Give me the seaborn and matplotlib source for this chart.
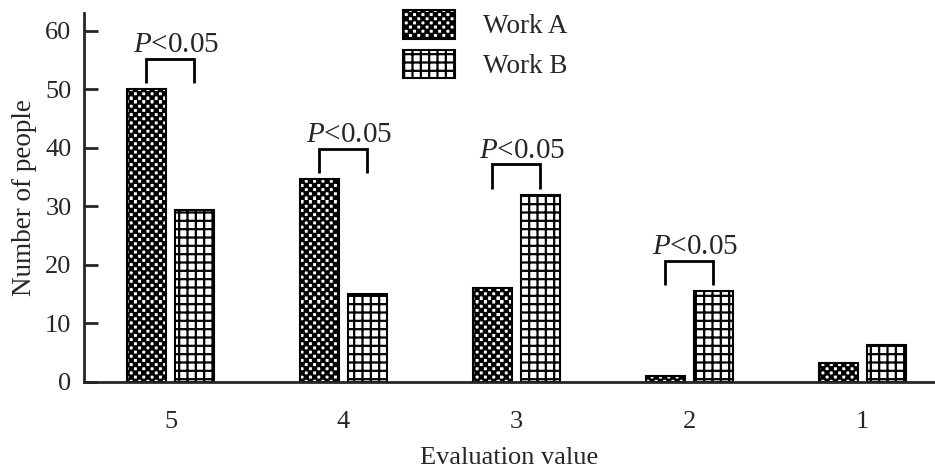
import numpy as np
import pandas as pd
import matplotlib
matplotlib.use("Agg")
import matplotlib.pyplot as plt
import seaborn as sns
from matplotlib import hatch as mhatch
from matplotlib.path import Path
from matplotlib.patches import Patch

# Data
categories = ["5", "4", "3", "2", "1"]
work_a = [50, 34.6, 16, 1.1, 3.2]
work_b = [29.4, 15, 32, 15.5, 6.3]
significant = [True, True, True, True, False]
series_names = ["Work A", "Work B"]


# checkerboard hatch, used in place of the small filled circles ('.')
class CheckerHatch(mhatch.HatchPatternBase):
    def __init__(self, hatch, density):
        self.n = hatch.count(".") * density
        if self.n % 2:
            self.n += 1
        self.num_squares = (self.n * self.n) // 2 if self.n else 0
        self.num_vertices = self.num_squares * 5

    def set_vertices_and_codes(self, vertices, codes):
        cell = 1.0 / self.n
        s = cell * 0.75
        k = 0
        for i in range(self.n):
            for j in range(self.n):
                if (i + j) % 2:
                    continue
                x0 = i * cell + (cell - s) / 2
                y0 = j * cell + (cell - s) / 2
                vertices[k:k + 5] = [[x0, y0], [x0 + s, y0], [x0 + s, y0 + s],
                                     [x0, y0 + s], [x0, y0]]
                codes[k:k + 5] = [Path.MOVETO, Path.LINETO, Path.LINETO,
                                  Path.LINETO, Path.CLOSEPOLY]
                k += 5


mhatch._hatch_types = [CheckerHatch if t is mhatch.SmallFilledCircles else t
                       for t in mhatch._hatch_types]

sns.set_style("ticks")
plt.rcParams["font.family"] = ["Liberation Serif", "DejaVu Serif"]
plt.rcParams["mathtext.fontset"] = "custom"
plt.rcParams["mathtext.rm"] = "Liberation Serif"
plt.rcParams["mathtext.it"] = "Liberation Serif:italic"
plt.rcParams["hatch.linewidth"] = 1.6
plt.rcParams["hatch.color"] = "black"

hatches = ["....", "++"]

df = pd.DataFrame({
    "Evaluation": categories * 2,
    "Count": work_a + work_b,
    "Work": [series_names[0]] * len(categories) + [series_names[1]] * len(categories),
})

fig = plt.figure(figsize=(9.35, 4.73), dpi=100)
ax = fig.add_axes([0.0898, 0.1924, 0.9102, 0.7801])

sns.barplot(data=df, x="Evaluation", y="Count", hue="Work", order=categories,
            hue_order=series_names, palette=["white", "white"],
            width=0.556, gap=0.19, edgecolor="black", linewidth=1.5,
            legend=False, ax=ax)

for container, h in zip(ax.containers, hatches):
    for bar in container:
        bar.set_hatch(h)

# significance brackets
bars_a = list(ax.containers[0])
bars_b = list(ax.containers[1])
for ba, bb, a, b, sig in zip(bars_a, bars_b, work_a, work_b, significant):
    if not sig:
        continue
    xa = ba.get_x() + ba.get_width() / 2
    xb = bb.get_x() + bb.get_width() / 2
    low = max(a, b) + 1.0
    high = low + 4.2
    ax.plot([xa, xa, xb, xb], [low, high, high, low], color="black", lw=2,
            solid_joinstyle="miter", solid_capstyle="butt")
    ax.text(xa - 0.075, high + 1.1, r"$P$<0.05", ha="left", va="baseline",
            fontsize=21)

ax.set_xlim(-0.5, 4.42)
ax.set_ylim(0, 63)
ax.set_yticks(range(0, 61, 10))
ax.tick_params(axis="y", direction="in", length=10, width=2, labelsize=19, pad=9)
ax.tick_params(axis="x", length=0, labelsize=19, pad=21)
for side in ["top", "right"]:
    ax.spines[side].set_visible(False)
for side in ["left", "bottom"]:
    ax.spines[side].set_linewidth(2)

ax.set_xlabel("Evaluation value", fontsize=19, labelpad=10)
ax.set_ylabel("Number of people", fontsize=19.5, labelpad=6)

handles = [Patch(facecolor="white", edgecolor="black", hatch=h, linewidth=1.5,
                 label=name) for h, name in zip(hatches, series_names)]
fig.legend(handles=handles, loc="upper left", bbox_to_anchor=(0.431, 0.979),
           frameon=False, fontsize=19.5, handlelength=1.93, handleheight=1.25,
           handletextpad=1.04, labelspacing=0.38, borderpad=0, borderaxespad=0)

fig.savefig("out.png", dpi=100)
